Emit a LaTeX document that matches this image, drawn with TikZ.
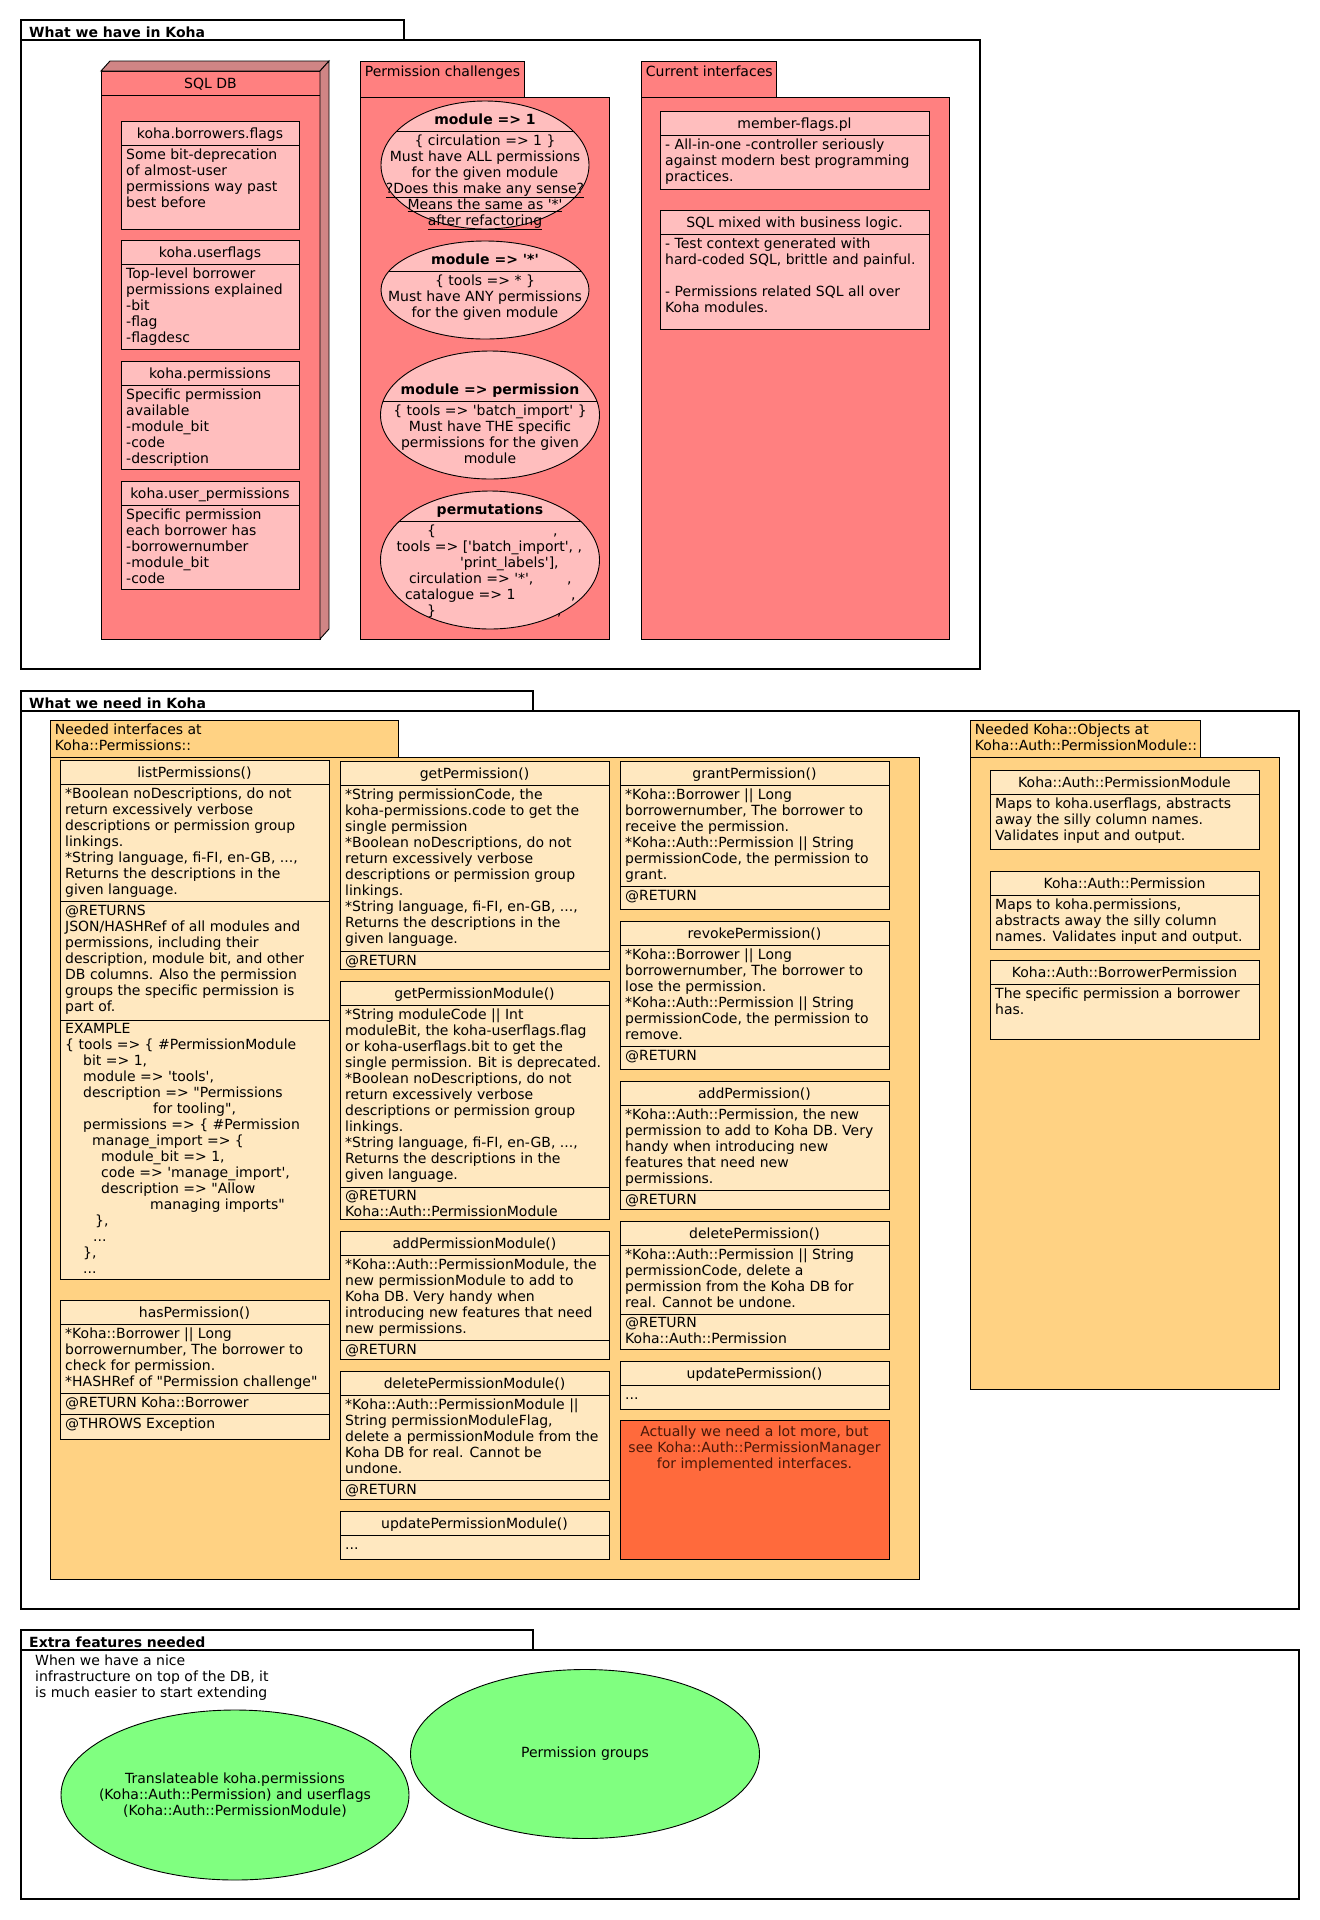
\documentclass[tikz,border=0pt]{standalone}
\usepackage{fontspec}
\usepackage{xcolor}
\usepackage{tikz}
\usetikzlibrary{shapes.geometric}

\newfontfamily\dejavu{DejaVu Sans}

\definecolor{salmon}{HTML}{FF8080}
\definecolor{salmonside}{HTML}{D08585}
\definecolor{pinkbox}{HTML}{FFBEBE}
\definecolor{orangepkg}{HTML}{FFD283}
\definecolor{orangebox}{HTML}{FFE8C0}
\definecolor{noteorange}{HTML}{FF6A3C}
\definecolor{notetext}{HTML}{4A1808}
\definecolor{greencase}{HTML}{80FF80}

\tikzset{
  framebox/.style={draw, line width=1.2pt, fill=white, inner sep=0pt, outer sep=0pt, anchor=north west},
  box/.style={draw, line width=0.9pt, inner sep=0pt, outer sep=0pt, anchor=north west},
  ell/.style={ellipse, draw, line width=0.9pt, inner sep=0pt, outer sep=0pt},
  sepline/.style={line width=0.9pt},
  txt/.style={font=\dejavu\fontsize{14}{16}\selectfont, inner xsep=5pt, inner ysep=3.5pt, align=left, anchor=north west, execute at begin node=\strut},
  ctxt/.style={txt, align=center, anchor=north},
  boxtitle/.style={font=\dejavu\fontsize{14}{16}\selectfont, inner sep=0pt, anchor=base},
  ctitle/.style={boxtitle, font=\dejavu\bfseries\fontsize{14}{16}\selectfont},
  pkgtitle/.style={txt, inner xsep=4.7pt, inner ysep=4pt},
  frametitle/.style={font=\dejavu\bfseries\fontsize{14}{16}\selectfont, inner sep=0pt, anchor=base west},
  greenell/.style={ell, fill=greencase},
  greentxt/.style={font=\dejavu\fontsize{14}{16}\selectfont, align=center, inner sep=0pt},
}

% name, x, y, tab width, body width, body height, title
\newcommand{\umlframe}[7]{%
  \node[framebox, minimum width=#5, minimum height=#6] (#1) at (#2,#3+20) {};
  \node[framebox, minimum width=#4, minimum height=20] (#1-tab) at (#2,#3) {};
  \node[frametitle] (#1-title) at ([xshift=8pt,yshift=-17pt]#1-tab.north west) {#7};}

% name, fill, x, y, tab width, tab height, body width, body height, title
\newcommand{\umlpkg}[9]{%
  \node[box, fill=#2, minimum width=#5, minimum height=#6] (#1-tab) at (#3,#4) {};
  \node[box, fill=#2, minimum width=#7, minimum height=#8] (#1) at (#1-tab.south west) {};
  \node[pkgtitle] (#1-title) at (#1-tab.north west) {#9};}

% name, fill, x, y, width, height, title
\newcommand{\umlbox}[7]{%
  \node[box, fill=#2, minimum width=#5, minimum height=#6] (#1) at (#3,#4) {};
  \node[boxtitle] (#1-title) at ([yshift=-17pt]#1.north) {#7};}

% box, offset from top, part, text
\newcommand{\umlsec}[4]{%
  \draw[sepline] ([yshift=-#2pt]#1.north west) -- ([yshift=-#2pt]#1.north east);
  \node[txt] (#1-#3) at ([yshift=-#2pt]#1.north west) {#4};}

% name, x, y, x radius, y radius, header line, title, text
\newcommand{\umlcase}[8]{%
  \node[ell, fill=pinkbox, minimum width=2*#4, minimum height=2*#5] (#1) at (#2,#3) {};
  \begin{scope}
    \clip (#2,#3) ellipse [x radius=#4, y radius=#5];
    \draw[sepline] (#2-#4,#6) -- (#2+#4,#6);
  \end{scope}
  \node[ctitle] (#1-title) at (#2,#6-7) {#7};
  \node[ctxt] (#1-text) at (#2,#6) {#8};}

\begin{document}
\begin{tikzpicture}[x=1pt, y=-1pt]
\path[use as bounding box, fill=white] (0,0) rectangle (1320,1920);

% what we have
\umlframe{have}{21}{20}{383}{959}{629}{What we have in Koha}

\node[box, fill=salmon, minimum width=219, minimum height=568] (sqldb) at (101,71) {};
\filldraw[fill=salmonside, line width=0.9pt] (sqldb.north west) -- ++(9,-10) -- ([shift={(9,-10)}]sqldb.north east) -- (sqldb.north east) -- cycle;
\filldraw[fill=salmonside, line width=0.9pt] (sqldb.north east) -- ++(9,-10) -- ([shift={(9,-10)}]sqldb.south east) -- (sqldb.south east) -- cycle;
\node[boxtitle] (sqldb-title) at ([yshift=-17pt]sqldb.north) {SQL DB};
\draw[sepline] ([yshift=-24pt]sqldb.north west) -- ([yshift=-24pt]sqldb.north east);

\umlbox{bflags}{pinkbox}{121}{121}{178}{108}{koha.borrowers.flags}
\umlsec{bflags}{24}{body}{Some bit-deprecation\\of almost-user\\permissions way past\\best before}
\umlbox{uflags}{pinkbox}{121}{240}{178}{109}{koha.userflags}
\umlsec{uflags}{24}{body}{Top-level borrower\\permissions explained\\-bit\\-flag\\-flagdesc}
\umlbox{perms}{pinkbox}{121}{361}{178}{108}{koha.permissions}
\umlsec{perms}{24}{body}{Specific permission\\available\\-module\_bit\\-code\\-description}
\umlbox{uperms}{pinkbox}{121}{481}{178}{108}{koha.user\_permissions}
\umlsec{uperms}{24}{body}{Specific permission\\each borrower has\\-borrowernumber\\-module\_bit\\-code}

\umlpkg{chal}{salmon}{360}{61}{164}{36}{249}{542}{Permission challenges}
\umlcase{allmod}{485}{165}{104}{64}{131}{module => 1}{\{ circulation => 1 \}\\Must have ALL permissions\\for the given module\\\underline{?Does this make any sense?}\\\underline{Means the same as '*'}\\\underline{after refactoring}}
\umlcase{anymod}{485}{290}{104}{49}{271}{module => '*'}{\{ tools => * \}\\Must have ANY permissions\\for the given module}
\umlcase{specmod}{490}{415}{109.5}{64}{401}{module => permission}{\{ tools => 'batch\_import' \}\\Must have THE specific\\permissions for the given\\module}
\umlcase{permut}{490}{560}{109.5}{69}{521}{permutations}{%
  \makebox[190pt][l]{\rlap{\hspace*{32pt}\{}\hspace*{158pt},}\\
  \makebox[190pt][l]{\hspace*{1.6pt}tools => ['batch\_import', ,}\\
  \makebox[190pt][l]{\hspace*{65pt}'print\_labels'],}\\
  \makebox[190pt][l]{\rlap{\hspace*{14pt}circulation => '*',}\hspace*{172pt},}\\
  \makebox[190pt][l]{\rlap{\hspace*{10pt}catalogue => 1}\hspace*{176pt},}\\
  \makebox[190pt][l]{\rlap{\hspace*{32pt}\}}\hspace*{162pt},}}

\umlpkg{cur}{salmon}{641}{61}{135}{36}{308}{542}{Current interfaces}
\umlbox{mflags}{pinkbox}{660}{111}{269}{78}{member-flags.pl}
\umlsec{mflags}{24}{body}{- All-in-one -controller seriously\\against modern best programming\\practices.}
\umlbox{sqlmix}{pinkbox}{660}{210}{269}{119}{SQL mixed with business logic.}
\umlsec{sqlmix}{24}{body}{- Test context generated with\\hard-coded SQL, brittle and painful.\\\strut\\- Permissions related SQL all over\\Koha modules.}

% what we need
\umlframe{need}{21}{691}{512}{1278}{898}{What we need in Koha}
\umlpkg{ifaces}{orangepkg}{50}{720}{348}{37}{869}{822}{Needed interfaces at\\Koha::Permissions::}

\umlbox{lp}{orangebox}{60}{760}{269}{519}{listPermissions()}
\umlsec{lp}{24}{params}{*Boolean noDescriptions, do not\\return excessively verbose\\descriptions or permission group\\linkings.\\*String language, fi-FI, en-GB, ...,\\Returns the descriptions in the\\given language.}
\umlsec{lp}{141}{returns}{@RETURNS\\JSON/HASHRef of all modules and\\permissions, including their\\description, module bit, and other\\DB columns. Also the permission\\groups the specific permission is\\part of.}
\umlsec{lp}{260}{example}{EXAMPLE\\\{ tools => \{ \#PermissionModule\\\hspace*{18pt}bit => 1,\\\hspace*{18pt}module => 'tools',\\\hspace*{18pt}description => "Permissions\\\hspace*{88pt}for tooling",\\\hspace*{18pt}permissions => \{ \#Permission\\\hspace*{27pt}manage\_import => \{\\\hspace*{36pt}module\_bit => 1,\\\hspace*{36pt}code => 'manage\_import',\\\hspace*{36pt}description => "Allow\\\hspace*{85pt}managing imports"\\\hspace*{30pt}\},\\\hspace*{28pt}...\\\hspace*{18pt}\},\\\hspace*{18pt}...}

\umlbox{hp}{orangebox}{60}{1300}{269}{139}{hasPermission()}
\umlsec{hp}{24}{params}{*Koha::Borrower || Long\\borrowernumber, The borrower to\\check for permission.\\*HASHRef of "Permission challenge"}
\umlsec{hp}{93}{returns}{@RETURN Koha::Borrower}
\umlsec{hp}{114}{throws}{@THROWS Exception}

\umlbox{gp}{orangebox}{340}{761}{269}{208}{getPermission()}
\umlsec{gp}{24}{params}{*String permissionCode, the\\koha-permissions.code to get the\\single permission\\*Boolean noDescriptions, do not\\return excessively verbose\\descriptions or permission group\\linkings.\\*String language, fi-FI, en-GB, ...,\\Returns the descriptions in the\\given language.}
\umlsec{gp}{190}{returns}{@RETURN}

\umlbox{gpm}{orangebox}{340}{981}{269}{238}{getPermissionModule()}
\umlsec{gpm}{24}{params}{*String moduleCode || Int\\moduleBit, the koha-userflags.flag\\or koha-userflags.bit to get the\\single permission. Bit is deprecated.\\*Boolean noDescriptions, do not\\return excessively verbose\\descriptions or permission group\\linkings.\\*String language, fi-FI, en-GB, ...,\\Returns the descriptions in the\\given language.}
\umlsec{gpm}{206}{returns}{@RETURN\\Koha::Auth::PermissionModule}

\umlbox{apm}{orangebox}{340}{1231}{269}{128}{addPermissionModule()}
\umlsec{apm}{24}{params}{*Koha::Auth::PermissionModule, the\\new permissionModule to add to\\Koha DB. Very handy when\\introducing new features that need\\new permissions.}
\umlsec{apm}{109}{returns}{@RETURN}

\umlbox{dpm}{orangebox}{340}{1371}{269}{128}{deletePermissionModule()}
\umlsec{dpm}{24}{params}{*Koha::Auth::PermissionModule ||\\String permissionModuleFlag,\\delete a permissionModule from the\\Koha DB for real. Cannot be\\undone.}
\umlsec{dpm}{109}{returns}{@RETURN}

\umlbox{upm}{orangebox}{340}{1511}{269}{48}{updatePermissionModule()}
\umlsec{upm}{24}{params}{...}

\umlbox{grp}{orangebox}{620}{761}{269}{148}{grantPermission()}
\umlsec{grp}{24}{params}{*Koha::Borrower || Long\\borrowernumber, The borrower to\\receive the permission.\\*Koha::Auth::Permission || String\\permissionCode, the permission to\\grant.}
\umlsec{grp}{125}{returns}{@RETURN}

\umlbox{rvp}{orangebox}{620}{921}{269}{148}{revokePermission()}
\umlsec{rvp}{24}{params}{*Koha::Borrower || Long\\borrowernumber, The borrower to\\lose the permission.\\*Koha::Auth::Permission || String\\permissionCode, the permission to\\remove.}
\umlsec{rvp}{125}{returns}{@RETURN}

\umlbox{adp}{orangebox}{620}{1081}{269}{128}{addPermission()}
\umlsec{adp}{24}{params}{*Koha::Auth::Permission, the new\\permission to add to Koha DB. Very\\handy when introducing new\\features that need new\\permissions.}
\umlsec{adp}{109}{returns}{@RETURN}

\umlbox{dlp}{orangebox}{620}{1221}{269}{128}{deletePermission()}
\umlsec{dlp}{24}{params}{*Koha::Auth::Permission || String\\permissionCode, delete a\\permission from the Koha DB for\\real. Cannot be undone.}
\umlsec{dlp}{93}{returns}{@RETURN\\Koha::Auth::Permission}

\umlbox{udp}{orangebox}{620}{1361}{269}{48}{updatePermission()}
\umlsec{udp}{24}{params}{...}

\node[box, fill=noteorange, minimum width=269, minimum height=139] (more) at (620,1420) {};
\node[ctxt, text=notetext] (more-text) at ([yshift=-2pt]more.north) {Actually we need a lot more, but\\see Koha::Auth::PermissionManager\\for implemented interfaces.};

\umlpkg{objs}{orangepkg}{970}{720}{230}{37}{309}{632}{Needed Koha::Objects at\\Koha::Auth::PermissionModule::}
\umlbox{kapm}{orangebox}{990}{770}{269}{79}{Koha::Auth::PermissionModule}
\umlsec{kapm}{24}{body}{Maps to koha.userflags, abstracts\\away the silly column names.\\Validates input and output.}
\umlbox{kap}{orangebox}{990}{871}{269}{78}{Koha::Auth::Permission}
\umlsec{kap}{24}{body}{Maps to koha.permissions,\\abstracts away the silly column\\names. Validates input and output.}
\umlbox{kabp}{orangebox}{990}{960}{269}{79}{Koha::Auth::BorrowerPermission}
\umlsec{kabp}{24}{body}{The specific permission a borrower\\has.}

% extra features
\umlframe{extra}{21}{1630}{512}{1278}{249}{Extra features needed}
\node[txt] (extra-text) at (30,1651) {When we have a nice\\infrastructure on top of the DB, it\\is much easier to start extending};
\node[greenell, minimum width=348, minimum height=170] (transl) at (235,1795) {};
\node[greentxt] (transl-text) at (transl.center) {Translateable koha.permissions\\(Koha::Auth::Permission) and userflags\\(Koha::Auth::PermissionModule)};
\node[greenell, minimum width=349, minimum height=169] (groups) at (585,1754) {};
\node[greentxt] (groups-text) at (groups.center) {Permission groups};
\end{tikzpicture}
\end{document}
